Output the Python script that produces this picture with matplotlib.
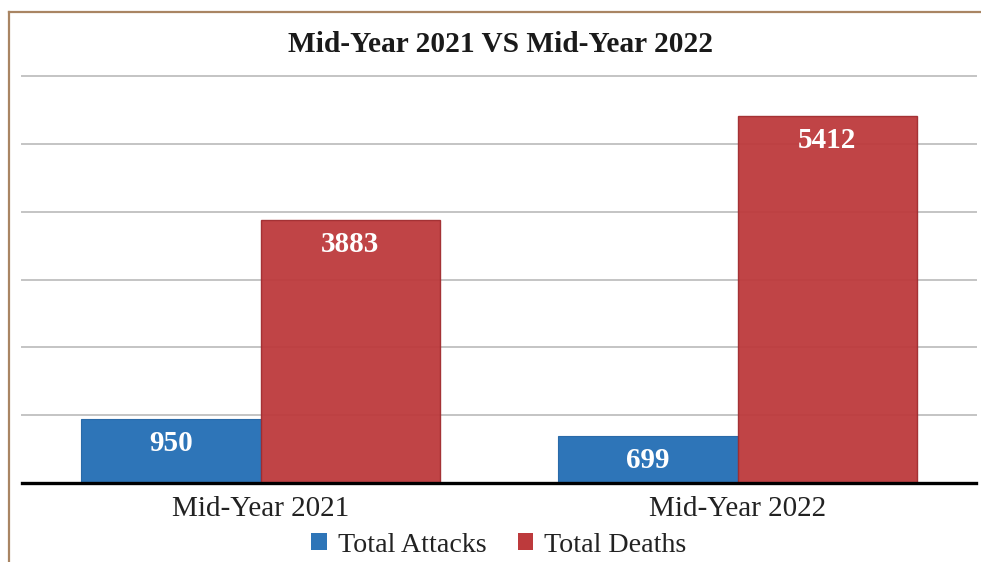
import matplotlib
matplotlib.use("Agg")
import matplotlib.pyplot as plt
from matplotlib.lines import Line2D
from matplotlib.patches import Patch
import numpy as np

categories = ["Mid-Year 2021", "Mid-Year 2022"]
series_names = ["Total Attacks", "Total Deaths"]
total_attacks = [950, 699]
total_deaths = [3883, 5412]
title = "Mid-Year 2021 VS Mid-Year 2022"

blue = "#2e75b8"
red = "#bd3a3c"
serif = ["Liberation Serif", "DejaVu Serif"]

W, H = 981, 562
fig = plt.figure(figsize=(W / 100, H / 100), dpi=100)
fig.patch.set_facecolor("white")

# axes in pixel terms: x 22..976, y 76..483 (top = 6000)
ax = fig.add_axes([22 / W, 1 - 483 / H, (976 - 22) / W, (483 - 76) / H])
ax.set_xlim(-0.5, 1.5)
ax.set_ylim(0, 6000)

x = np.arange(len(categories))
w = 0.376
for yv in range(1000, 6001, 1000):
    ax.axhline(yv, color="#c4c4c4", lw=1.4, zorder=0, clip_on=False)

b1 = ax.bar(x - w / 2, total_attacks, width=w, color=blue, edgecolor="#2a6aa8",
            linewidth=0.8, zorder=2)
b2 = ax.bar(x + w / 2, total_deaths, width=w, color=red, edgecolor="#a12c2f",
            linewidth=1.0, zorder=2, alpha=0.95)

for bars, vals in ((b1, total_attacks), (b2, total_deaths)):
    for r, v in zip(bars, vals):
        ax.annotate(str(v), (r.get_x() + r.get_width() / 2, v),
                    xytext=(0, -25), textcoords="offset pixels",
                    ha="center", va="center", color="white",
                    fontsize=21, fontweight="bold", family=serif, zorder=3)

ax.axhline(0, color="black", lw=2.4, zorder=4, clip_on=False)
for s in ax.spines.values():
    s.set_visible(False)
ax.set_yticks([])
ax.set_xticks(x)
ax.set_xticklabels(categories, family=serif, fontsize=21, color="#222222")
ax.tick_params(axis="x", length=0, pad=9)

fig.text(501 / W, 1 - 45 / H, title, ha="center", va="center",
         fontsize=21.2, fontweight="bold", family=serif, color="#1a1a1a")

handles = [Patch(facecolor=blue, edgecolor="none"), Patch(facecolor=red, edgecolor="none")]
fig.legend(handles, series_names, loc="center", bbox_to_anchor=(499 / W, 1 - 545 / H),
           ncol=2, frameon=False, prop={"family": serif, "size": 20.2},
           handlelength=0.55, handleheight=0.55, handletextpad=0.4, columnspacing=1.1,
           labelcolor="#222222")

# outer frame: left and top edges
frame_c = "#a98563"
fig.add_artist(Line2D([9 / W, 9 / W], [0, 1 - 12 / H], color=frame_c, lw=1.6,
                      transform=fig.transFigure))
fig.add_artist(Line2D([9 / W, 1], [1 - 12 / H, 1 - 12 / H], color=frame_c, lw=1.6,
                      transform=fig.transFigure))

fig.savefig("out.png", dpi=100)
